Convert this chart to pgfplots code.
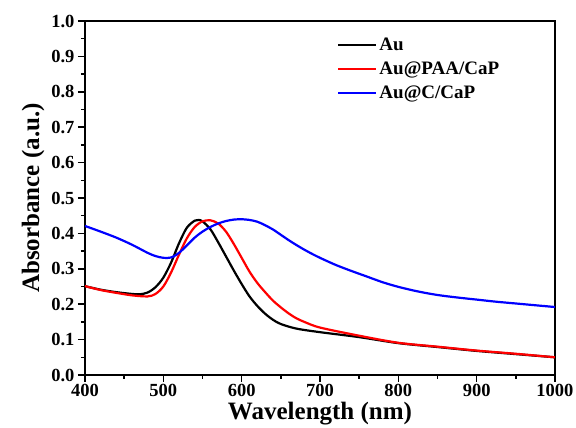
\documentclass[border=0pt]{standalone}
\usepackage{fontspec}
\setmainfont{Liberation Serif}
\usepackage{pgfplots}
\pgfplotsset{compat=1.18}

\begin{document}
\begin{tikzpicture}
\path[use as bounding box] (-85pt,-53pt) rectangle (491pt,375pt);
\begin{axis}[
  at={(0pt,0pt)}, anchor=south west,
  scale only axis, width=470pt, height=354pt,
  xmin=400, xmax=1000, ymin=0, ymax=1.0,
  xtick={400,500,...,1000}, ytick={0,0.1,...,1.0},
  minor x tick num=1, minor y tick num=1,
  tick align=outside, major tick length=7pt, minor tick length=4pt,
  xtick pos=left, ytick pos=left,
  axis line style={line width=1.8pt},
  every tick/.style={line width=1.5pt, black},
  /pgf/number format/assume math mode=true,
  yticklabel style={/pgf/number format/.cd, fixed, fixed zerofill, precision=1},
  xticklabel style={yshift=1pt, /pgf/number format/.cd, fixed, precision=0, 1000 sep={}},
  tick label style={font=\fontsize{18.5}{18.5}\selectfont\bfseries},
  xlabel={Wavelength (nm)}, ylabel={Absorbance (a.u.)},
  label style={font=\fontsize{25}{25}\selectfont\bfseries},
  xlabel style={yshift=1.5pt},
  ylabel style={yshift=0pt},
  legend style={at={(0.53,0.965)}, anchor=north west, draw=none, fill=none,
    font=\fontsize{19}{19}\selectfont\bfseries, row sep=6pt},
  legend cell align=left,
  legend image code/.code={\draw[#1] (0pt,0pt) -- (38pt,0pt);},
  every axis plot/.append style={line width=2.2pt, smooth, tension=0.5},
]
% Au
\addplot[black] coordinates {
(400,0.251) (420,0.241) (440,0.234) (460,0.229) (470,0.228) (480,0.233)
(490,0.248) (500,0.275) (510,0.318) (520,0.372) (530,0.416) (540,0.436)
(545,0.438) (550,0.434) (560,0.412) (570,0.375) (580,0.335) (590,0.295)
(600,0.257) (610,0.222) (620,0.195) (630,0.173) (640,0.156) (650,0.144)
(670,0.131) (700,0.121) (750,0.107) (800,0.090) (850,0.079) (900,0.068)
(950,0.059) (1000,0.050)};
\addlegendentry{Au}
% Au@PAA/CaP
\addplot[red] coordinates {
(400,0.251) (420,0.240) (440,0.232) (460,0.225) (480,0.222) (490,0.229)
(500,0.250) (510,0.290) (520,0.340) (530,0.386) (540,0.418) (550,0.434)
(560,0.437) (570,0.428) (580,0.405) (590,0.370) (600,0.331) (610,0.292)
(620,0.260) (630,0.234) (640,0.210) (650,0.191) (660,0.174) (670,0.160)
(680,0.150) (700,0.134) (750,0.111) (800,0.091) (850,0.080) (900,0.069)
(950,0.060) (1000,0.050)};
\addlegendentry{Au@PAA/CaP}
% Au@C/CaP
\addplot[blue] coordinates {
(400,0.421) (420,0.405) (440,0.388) (460,0.368) (480,0.345) (490,0.336)
(500,0.331) (510,0.332) (520,0.345) (530,0.366) (540,0.388) (550,0.405)
(560,0.418) (570,0.428) (580,0.435) (590,0.439) (600,0.440) (610,0.438)
(620,0.433) (630,0.423) (640,0.411) (650,0.396) (660,0.381) (670,0.367)
(680,0.354) (690,0.342) (700,0.331) (720,0.311) (740,0.294) (760,0.278)
(780,0.262) (800,0.249) (825,0.236) (850,0.226) (875,0.219) (900,0.213)
(925,0.207) (950,0.202) (975,0.197) (1000,0.192)};
\addlegendentry{Au@C/CaP}
\end{axis}
\end{tikzpicture}
\end{document}
